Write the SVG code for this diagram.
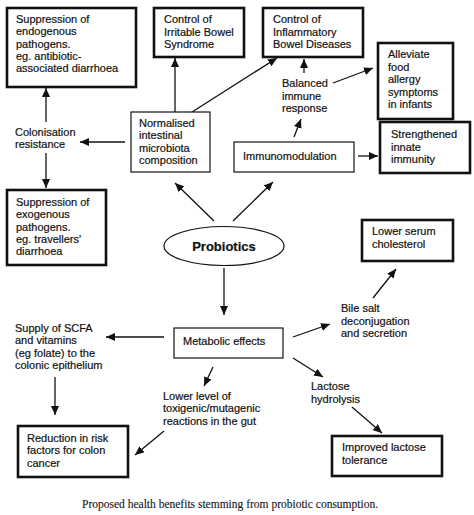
<svg xmlns="http://www.w3.org/2000/svg" width="474" height="515" viewBox="0 0 474 515">
<style>
text{font-family:"Liberation Sans",Arial,sans-serif;font-size:11px;fill:#111;stroke:#111;stroke-width:0.2}
.cap{font-family:"Liberation Serif","Times New Roman",serif;font-size:11.5px;stroke-width:0.1}
.thick{fill:#fff;stroke:#111;stroke-width:2.6}
.thin{fill:#fff;stroke:#111;stroke-width:1.2}
.c{stroke:#111;stroke-width:1.3;fill:none;marker-end:url(#ah)}
</style>
<defs>
<marker id="ah" markerUnits="userSpaceOnUse" markerWidth="10" markerHeight="8" refX="9" refY="4" orient="auto">
<path d="M0,0 L9,4 L0,8 z" fill="#111"/>
</marker>
</defs>
<rect width="474" height="515" fill="#fff"/>
<g id="connectors">
<line class="c" x1="175" y1="112" x2="175" y2="58"/>
<line class="c" x1="192" y1="112" x2="277" y2="58"/>
<line class="c" x1="125" y1="142" x2="80" y2="142"/>
<line class="c" x1="46" y1="122" x2="46" y2="88"/>
<line class="c" x1="46" y1="153" x2="46" y2="188"/>
<line class="c" x1="304" y1="73" x2="304" y2="59"/>
<line class="c" x1="333" y1="83" x2="373" y2="68"/>
<line class="c" x1="294" y1="137" x2="301" y2="119"/>
<line class="c" x1="358" y1="156" x2="378" y2="156"/>
<line class="c" x1="214" y1="221" x2="175" y2="183"/>
<line class="c" x1="233" y1="221" x2="273" y2="182"/>
<line class="c" x1="224" y1="268" x2="224" y2="315"/>
<line class="c" x1="164" y1="337" x2="106" y2="337"/>
<line class="c" x1="55" y1="377" x2="55" y2="415"/>
<line class="c" x1="213" y1="367" x2="204" y2="386"/>
<line class="c" x1="164" y1="431" x2="135" y2="455"/>
<line class="c" x1="293" y1="337" x2="330" y2="324"/>
<line class="c" x1="373" y1="298" x2="396" y2="269"/>
<line class="c" x1="293" y1="358" x2="323" y2="377"/>
<line class="c" x1="352" y1="407" x2="382" y2="433"/>
</g>
<g id="endogenous">
<rect class="thick" x="7" y="8" width="129" height="79"/>
<text x="16" y="23">Suppression of</text>
<text x="16" y="35.3">endogenous</text>
<text x="16" y="47.6">pathogens.</text>
<text x="16" y="59.9">eg. antibiotic-</text>
<text x="16" y="72.2">associated diarrhoea</text>
</g>
<g id="ibs">
<rect class="thick" x="154" y="8" width="90" height="49"/>
<text x="164" y="23">Control of</text>
<text x="164" y="35.5">Irritable Bowel</text>
<text x="164" y="48">Syndrome</text>
</g>
<g id="ibd">
<rect class="thick" x="263" y="8" width="100" height="49"/>
<text x="273" y="23">Control of</text>
<text x="273" y="35.5">Inflammatory</text>
<text x="273" y="48">Bowel Diseases</text>
</g>
<g id="alleviate">
<rect class="thick" x="378" y="43" width="75" height="76"/>
<text x="388" y="58">Alleviate</text>
<text x="388" y="70.5">food</text>
<text x="388" y="83">allergy</text>
<text x="388" y="95.5">symptoms</text>
<text x="388" y="108">in infants</text>
</g>
<g id="balanced">
<text x="282" y="87">Balanced</text>
<text x="282" y="99.5">immune</text>
<text x="282" y="112">response</text>
</g>
<g id="normalised">
<rect class="thin" x="131" y="112" width="79" height="60"/>
<text x="139" y="127">Normalised</text>
<text x="139" y="139.3">intestinal</text>
<text x="139" y="151.6">microbiota</text>
<text x="139" y="163.9">composition</text>
</g>
<g id="colonisation">
<text x="15" y="136">Colonisation</text>
<text x="15" y="148.3">resistance</text>
</g>
<g id="immunomodulation">
<rect class="thin" x="234" y="142" width="120" height="30"/>
<text x="243" y="160">Immunomodulation</text>
</g>
<g id="strengthened">
<rect class="thick" x="380" y="122" width="90" height="51"/>
<text x="391" y="138">Strengthened</text>
<text x="391" y="150.5">innate</text>
<text x="391" y="163">immunity</text>
</g>
<g id="exogenous">
<rect class="thick" x="7" y="190" width="99" height="75"/>
<text x="16" y="206">Suppression of</text>
<text x="16" y="218.3">exogenous</text>
<text x="16" y="230.6">pathogens.</text>
<text x="16" y="242.9">eg. travellers'</text>
<text x="16" y="255.2">diarrhoea</text>
</g>
<g id="probiotics">
<ellipse cx="224" cy="246" rx="60" ry="19.5" fill="#fff" stroke="#111" stroke-width="1.2"/>
<text x="224" y="251" text-anchor="middle" style="font-size:13px;font-weight:bold">Probiotics</text>
</g>
<g id="cholesterol">
<rect class="thick" x="362" y="220" width="91" height="41"/>
<text x="372" y="235">Lower serum</text>
<text x="372" y="248">cholesterol</text>
</g>
<g id="bile">
<text x="341" y="312">Bile salt</text>
<text x="341" y="324.5">deconjugation</text>
<text x="341" y="337">and secretion</text>
</g>
<g id="metabolic">
<rect class="thin" x="174" y="328" width="109" height="30"/>
<text x="183" y="345">Metabolic effects</text>
</g>
<g id="supply">
<text x="15" y="332">Supply of SCFA</text>
<text x="15" y="344.3">and vitamins</text>
<text x="15" y="356.6">(eg folate) to the</text>
<text x="15" y="368.9">colonic epithelium</text>
</g>
<g id="lactose">
<text x="311" y="390">Lactose</text>
<text x="311" y="402.5">hydrolysis</text>
</g>
<g id="lowerlevel">
<text x="163" y="400">Lower level of</text>
<text x="163" y="412.3">toxigenic/mutagenic</text>
<text x="163" y="424.6">reactions in the gut</text>
</g>
<g id="reduction">
<rect class="thick" x="18" y="426" width="110" height="51"/>
<text x="27" y="442">Reduction in risk</text>
<text x="27" y="454.3">factors for colon</text>
<text x="27" y="466.6">cancer</text>
</g>
<g id="improved">
<rect class="thick" x="332" y="436" width="110" height="40"/>
<text x="342" y="451">Improved lactose</text>
<text x="342" y="463.5">tolerance</text>
</g>
<text class="cap" x="82" y="508">Proposed health benefits stemming from probiotic consumption.</text>
</svg>
